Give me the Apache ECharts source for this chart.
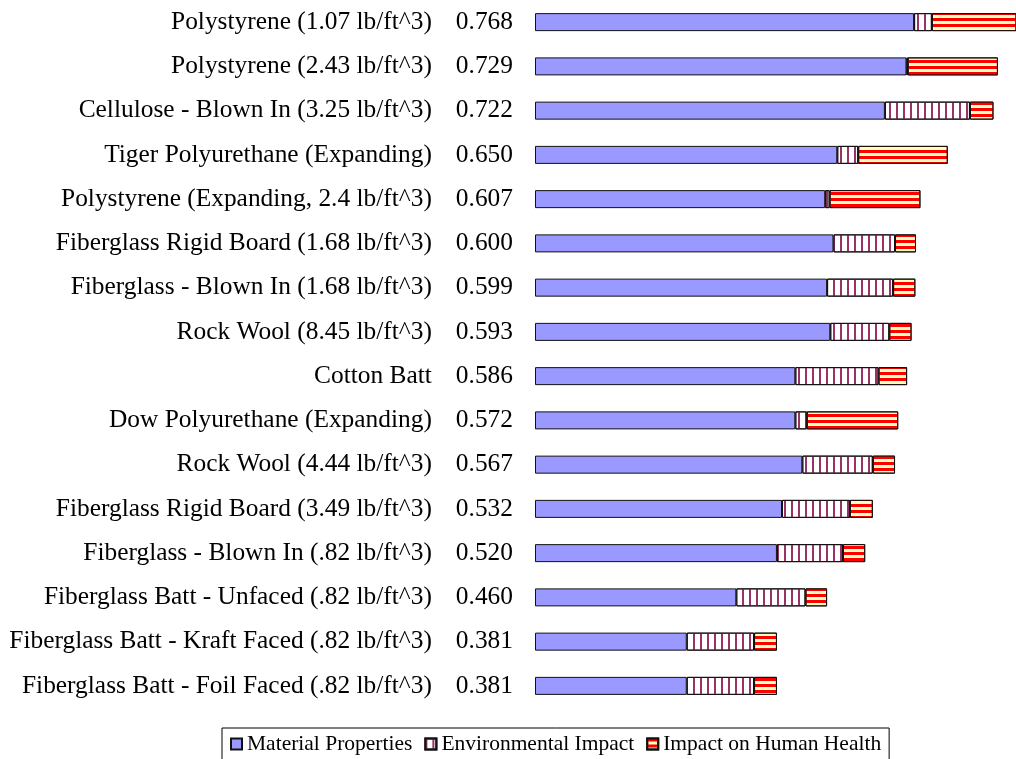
<!DOCTYPE html>
<html>
<head>
<meta charset="utf-8">
<title>Insulation materials</title>
<script src="https://cdn.jsdelivr.net/npm/echarts@6/dist/echarts.min.js"></script>
<style>
  html, body { margin: 0; padding: 0; background: #fff; }
  #chart { width: 1016px; height: 759px; }
</style>
</head>
<body>
<div id="chart"></div>
<script>
const categories = [
  'Polystyrene (1.07 lb/ft^3)',
  'Polystyrene (2.43 lb/ft^3)',
  'Cellulose - Blown In (3.25 lb/ft^3)',
  'Tiger Polyurethane (Expanding)',
  'Polystyrene (Expanding, 2.4 lb/ft^3)',
  'Fiberglass Rigid Board (1.68 lb/ft^3)',
  'Fiberglass - Blown In (1.68 lb/ft^3)',
  'Rock Wool (8.45 lb/ft^3)',
  'Cotton Batt',
  'Dow Polyurethane (Expanding)',
  'Rock Wool (4.44 lb/ft^3)',
  'Fiberglass Rigid Board (3.49 lb/ft^3)',
  'Fiberglass - Blown In (.82 lb/ft^3)',
  'Fiberglass Batt - Unfaced (.82 lb/ft^3)',
  'Fiberglass Batt - Kraft Faced (.82 lb/ft^3)',
  'Fiberglass Batt - Foil Faced (.82 lb/ft^3)'
];
const totals = ['0.768', '0.729', '0.722', '0.650', '0.607', '0.600', '0.599', '0.593',
  '0.586', '0.572', '0.567', '0.532', '0.520', '0.460', '0.381', '0.381'];
const material = [0.597, 0.585, 0.551, 0.476, 0.457, 0.470, 0.460, 0.465,
  0.410, 0.410, 0.421, 0.389, 0.381, 0.317, 0.239, 0.239];
const environmental = [0.028, 0.002, 0.134, 0.033, 0.007, 0.097, 0.104, 0.093,
  0.131, 0.018, 0.111, 0.107, 0.104, 0.109, 0.106, 0.106];
const health = [0.143, 0.142, 0.037, 0.141, 0.143, 0.033, 0.035, 0.035,
  0.045, 0.144, 0.035, 0.036, 0.035, 0.034, 0.036, 0.036];

const font = 'Liberation Serif';
const chart = echarts.init(document.getElementById('chart'));

function barSeries(name, data, color, decal) {
  const itemStyle = {
    color: color,
    borderColor: '#111',
    borderWidth: 1
  };
  if (decal) {
    itemStyle.decal = decal;
  }
  return {
    name: name,
    type: 'bar',
    stack: 'total',
    barWidth: 18,
    data: data,
    itemStyle: itemStyle,
    animation: false
  };
}

chart.setOption({
  textStyle: { fontFamily: font },
  grid: {
    left: 535,
    right: 0,
    top: -4,
    height: 712
  },
  xAxis: {
    type: 'value',
    min: 0,
    max: 0.7575,
    show: false
  },
  yAxis: {
    type: 'category',
    inverse: true,
    data: categories,
    axisLine: { show: false },
    axisTick: { show: false },
    axisLabel: {
      margin: 22,
      color: '#000',
      fontFamily: font,
      fontSize: 25.4,
      formatter: (value, index) => '{n|' + value + '}{v|' + totals[index] + '}',
      rich: {
        n: { fontFamily: font, fontSize: 25.4, color: '#000' },
        v: { fontFamily: font, fontSize: 25.4, color: '#000', padding: [0, 0, 0, 24] }
      }
    }
  },
  legend: {
    left: 222,
    top: 728,
    padding: [5, 8, 5, 8],
    borderColor: '#000',
    borderWidth: 1,
    itemWidth: 11,
    itemHeight: 11,
    itemGap: 12,
    icon: 'rect',
    textStyle: { fontFamily: font, fontSize: 21.5, color: '#000' },
    data: ['Material Properties', 'Environmental Impact', 'Impact on Human Health']
  },
  series: [
    barSeries('Material Properties', material, '#9999ff', null),
    barSeries('Environmental Impact', environmental, '#ffffff', {
      color: '#993366',
      symbol: 'rect',
      symbolSize: 1,
      dashArrayX: [2, 5],
      dashArrayY: [1, 0]
    }),
    barSeries('Impact on Human Health', health, '#ffffc0', {
      color: '#ff0000',
      symbol: 'rect',
      symbolSize: 1,
      dashArrayX: [1, 0],
      dashArrayY: [3, 3]
    })
  ]
});
</script>
</body>
</html>
